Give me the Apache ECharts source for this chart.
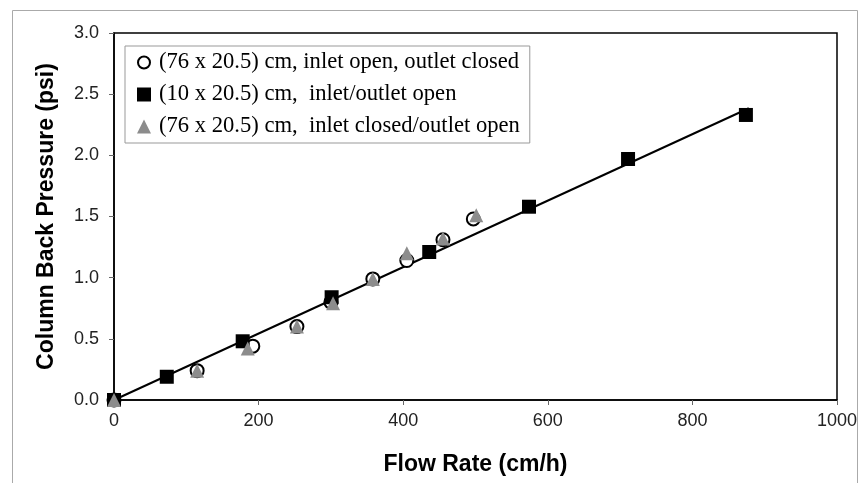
<!DOCTYPE html>
<html>
<head>
<meta charset="utf-8">
<script src="https://cdn.jsdelivr.net/npm/echarts@6/dist/echarts.min.js"></script>
<style>
  html, body { margin: 0; padding: 0; background: #fff; }
  #chart { width: 867px; height: 483px; }
</style>
</head>
<body>
<div id="chart"></div>
<script>
// Flow rate (cm/h) vs. column back pressure (psi)
const seriesNames = [
  '(76 x 20.5) cm, inlet open, outlet closed',
  '(10 x 20.5) cm,  inlet/outlet open',
  '(76 x 20.5) cm,  inlet closed/outlet open'
];

const openClosedFlow = [0, 115, 192, 253, 300, 358, 405, 455, 497];
const openClosedPressure = [0, 0.24, 0.44, 0.60, 0.80, 0.99, 1.14, 1.31, 1.48];

const shortColumnFlow = [0, 73, 178, 301, 436, 574, 711, 874];
const shortColumnPressure = [0, 0.19, 0.48, 0.84, 1.21, 1.58, 1.97, 2.33];

const closedOpenFlow = [0, 115, 185, 253, 303, 358, 405, 455, 501];
const closedOpenPressure = [0, 0.24, 0.42, 0.60, 0.79, 0.99, 1.20, 1.32, 1.51];

// linear fit through the origin
const fitFlow = [0, 878];
const fitPressure = [0, 2.385];

const xTicks = [0, 200, 400, 600, 800, 1000];
const yTicks = [0, 0.5, 1.0, 1.5, 2.0, 2.5, 3.0];

const pairs = (xs, ys) => xs.map((x, i) => [x, ys[i]]);

// hollow ring used as the legend key of the circle series
const ringIcon = 'path://M12,1A11,11 0 1,1 11.99,1Z M12,4.2A7.8,7.8 0 1,0 12.01,4.2Z';

const chart = echarts.init(document.getElementById('chart'), null, { renderer: 'canvas' });

const sans = 'Liberation Sans, Arial, sans-serif';
const serif = 'Liberation Serif, Times New Roman, serif';

chart.setOption({
  animation: false,
  backgroundColor: '#fff',
  graphic: [{
    type: 'rect',
    shape: { x: 12.5, y: 10.5, width: 845, height: 490 },
    style: { fill: 'none', stroke: '#aaa', lineWidth: 1 },
    silent: true,
    z: -1
  }],
  grid: {
    left: 114, top: 33, right: 30, bottom: 83,
    show: true, borderColor: '#000', borderWidth: 1.5, backgroundColor: '#fff'
  },
  legend: {
    orient: 'vertical',
    left: 125, top: 46,
    padding: [5, 10, 5, 12],
    itemGap: 9,
    itemWidth: 14, itemHeight: 14,
    borderColor: '#999', borderWidth: 1,
    backgroundColor: '#fff',
    textStyle: { fontFamily: serif, fontSize: 22.6, color: '#000', padding: [0, 0, 0, 3] },
    data: [
      { name: seriesNames[0], icon: ringIcon, itemStyle: { color: '#000', borderWidth: 0 } },
      { name: seriesNames[1], icon: 'rect' },
      { name: seriesNames[2], icon: 'triangle' }
    ]
  },
  xAxis: {
    type: 'value',
    min: 0, max: 1000, interval: 200,
    name: 'Flow Rate (cm/h)',
    nameLocation: 'middle',
    nameGap: 53,
    nameTextStyle: { fontFamily: sans, fontSize: 23, fontWeight: 'bold', color: '#000' },
    axisLine: { show: true, onZero: false, lineStyle: { color: '#000', width: 1.5 } },
    axisTick: { show: true, inside: false, length: 5, lineStyle: { color: '#666' } },
    axisLabel: {
      margin: 12, fontFamily: sans, fontSize: 18, color: '#222',
      formatter: v => xTicks.includes(v) ? String(v) : ''
    },
    splitLine: { show: false }
  },
  yAxis: {
    type: 'value',
    min: 0, max: 3, interval: 0.5,
    name: 'Column Back Pressure (psi)',
    nameLocation: 'middle',
    nameGap: 56,
    nameTextStyle: { fontFamily: sans, fontSize: 23, fontWeight: 'bold', color: '#000' },
    axisLine: { show: true, lineStyle: { color: '#000', width: 1.5 } },
    axisTick: { show: true, inside: false, length: 5, lineStyle: { color: '#666' } },
    axisLabel: {
      margin: 15, fontFamily: sans, fontSize: 18, color: '#222',
      formatter: v => yTicks.some(t => Math.abs(t - v) < 1e-9) ? v.toFixed(1) : ''
    },
    splitLine: { show: false }
  },
  series: [
    {
      name: 'fit',
      type: 'line',
      data: pairs(fitFlow, fitPressure),
      showSymbol: false,
      symbol: 'none',
      lineStyle: { color: '#000', width: 2 },
      z: 1
    },
    {
      name: seriesNames[0],
      type: 'scatter',
      data: pairs(openClosedFlow, openClosedPressure),
      symbol: 'emptyCircle',
      symbolSize: 13,
      itemStyle: { color: '#000', borderColor: '#000', borderWidth: 2, opacity: 1 },
      z: 2
    },
    {
      name: seriesNames[1],
      type: 'scatter',
      data: pairs(shortColumnFlow, shortColumnPressure),
      symbol: 'rect',
      symbolSize: 14,
      itemStyle: { color: '#000', opacity: 1 },
      z: 3
    },
    {
      name: seriesNames[2],
      type: 'scatter',
      data: pairs(closedOpenFlow, closedOpenPressure),
      symbol: 'triangle',
      symbolSize: 14,
      itemStyle: { color: '#8c8c8c', opacity: 1 },
      z: 4
    }
  ]
});
</script>
</body>
</html>
